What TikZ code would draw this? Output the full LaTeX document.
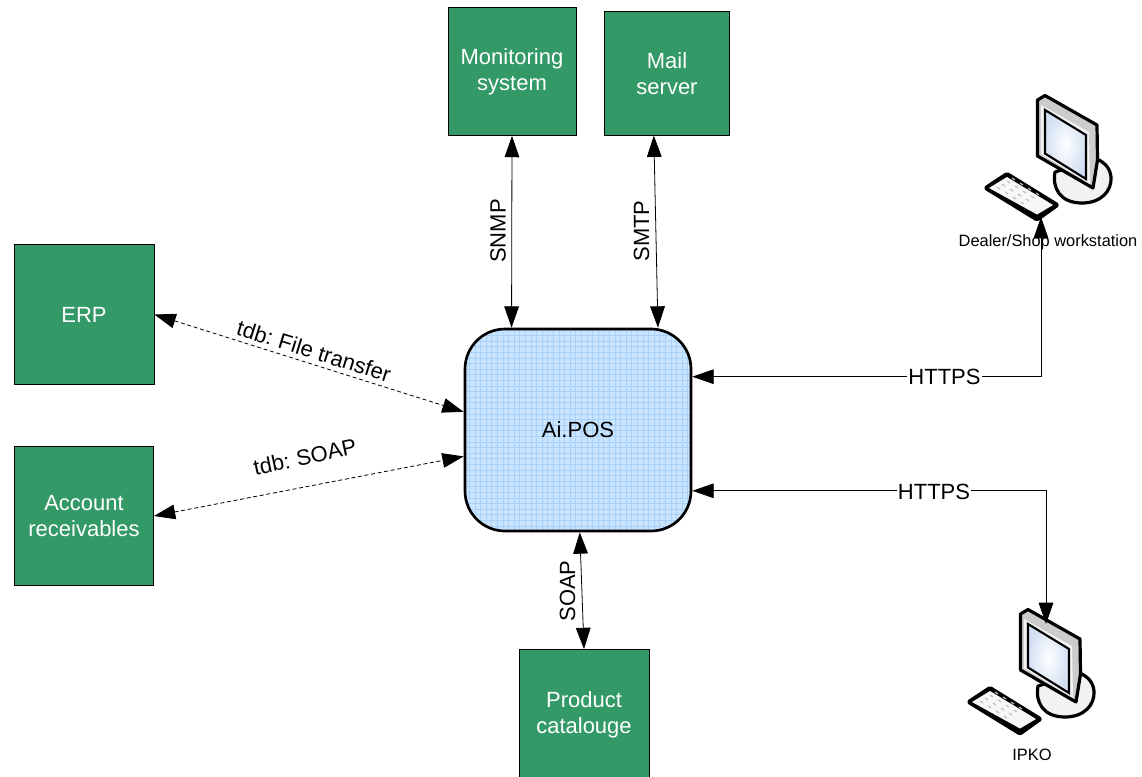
\documentclass[tikz,border=0pt]{standalone}
\usepackage{fontspec}
\setmainfont{Liberation Sans}
\usetikzlibrary{arrows.meta}
\definecolor{boxgreen}{HTML}{339966}
\definecolor{posfill}{HTML}{CCE5FF}
\definecolor{posgrid}{HTML}{A8D2FA}
\definecolor{screenblue}{HTML}{D3E0F3}
\tikzset{
    x=0.75pt, y=-0.75pt,
    sysbox/.style={draw=black, line width=0.6pt, fill=boxgreen, text=white, align=center, font=\fontsize{16.5}{19.5}\selectfont, minimum width=#1*0.75pt, minimum height=#1*0.75pt, inner sep=0pt},
    link/.style={<->, line width=0.6pt, >={Triangle[length=16pt,width=11pt]}},
    tdblink/.style={link, dash pattern=on 3pt off 2pt},
    proto/.style={font=\fontsize{16.5}{19.5}\selectfont},
    pclabel/.style={font=\fontsize{12.3}{14}\selectfont},
    pcline/.style={line width=2.4pt, draw=black, line join=round},
    pc/.pic={
        % base
        \draw[pcline, fill=gray!10] (105,92) .. controls (102,108) and (110,123) .. (132,123) .. controls (151,123) and (162,111) .. (161,97) .. controls (160,88) and (155,83) .. (147,79) -- cycle;
        % monitor
        \draw[pcline, fill=gray!40] (87.5,20) -- (95,15.5) -- (147,45) -- (147.5,80) -- (143,108) -- (87.5,76) -- cycle;
        \fill[gray!10] (91,25) -- (139,52) -- (140,104) -- (91,74) -- cycle;
        \draw[line width=1.6pt, shade, inner color=white, outer color=screenblue] (95,30) -- (136,55) -- (136,99) -- (95,73.5) -- cycle;
        % keyboard
        \draw[pcline, fill=black, rounded corners=1pt] (35,108) -- (57,93.5) -- (108,125) -- (87,140) -- cycle;
        \fill[gray!6] (39,108) -- (57,97) -- (103,125) -- (87,134.5) -- cycle;
        \foreach \i in {0,1,2,3} \foreach \j in {0,1,2,3}
            \draw[gray!50, line width=0.9pt] (47+\i*8+\j*5,107+\i*5-\j*3) -- ++(3,2);
    }
}
\begin{document}
\begin{tikzpicture}
    \useasboundingbox (0,0) rectangle (1142,776);

    \node[sysbox=128] (mon) at (512,71.5) {\raisebox{-0.7pt}{Monitoring}\\\raisebox{-0.7pt}{system}};
    \node[sysbox=125, minimum height=92.5pt] (mail) at (667,73.5) {\raisebox{0.7pt}{Mail}\\\raisebox{0.7pt}{server}};
    \node[sysbox=140] (erp) at (84,314.5) {ERP};
    \node[sysbox=139] (acc) at (84,516) {Account\\receivables};
    \node[sysbox=130] (cat) at (584,714.5) {Product\\catalouge};

    \node[draw=black, line width=2pt, rounded corners=30pt, fill=posfill, minimum width=169.5pt, minimum height=151.5pt, font=\fontsize{16.5}{19.5}\selectfont,
        path picture={\draw[posgrid, line width=0.35pt] (path picture bounding box.south west) grid[step=4.2pt] (path picture bounding box.north east);}] (pos) at (578,430) {\raisebox{-1.2pt}{Ai.POS}};

    \pic at (950,80) {pc};
    \pic at (933,594) {pc};
    \coordinate (dealer) at (1041,217);
    \coordinate (ipko) at (1046,624);

    \draw[link] (mon.south) -- (pos.123.6);
    \draw[link] (mail.258) -- (pos.52);
    \draw[link] (pos.271) -- (cat.north);
    \draw[tdblink] (erp.east) -- (pos.171);
    \draw[tdblink] (acc.east) -- (pos.193);
    \draw[link] (pos.25.5) -| (dealer);
    \draw[link] (pos.-28.4) -| (ipko);

    \node[proto, rotate=90] (snmp) at (498,231) {SNMP};
    \node[proto, rotate=90] (smtp) at (641.5,231) {SMTP};
    \node[proto, rotate=90] (soap) at (567.5,591) {SOAP};
    \node[proto, rotate=-17.4] (file) at (314,351) {tdb:\hspace{-1pt} File transfer};
    \node[proto, rotate=12] (tdbsoap) at (305,457) {tdb:\hspace{-1pt} SOAP};
    \node[proto, fill=white, inner sep=1pt] (https) at (944.5,376.5) {HTTPS};
    \node[proto, fill=white, inner sep=1pt] (httpsb) at (934,492) {HTTPS};
    \node[pclabel] (dealertxt) at (1048,242) {Dealer/Shop workstation};
    \node[pclabel] (ipkotxt) at (1032,755) {IPKO};
\end{tikzpicture}
\end{document}
